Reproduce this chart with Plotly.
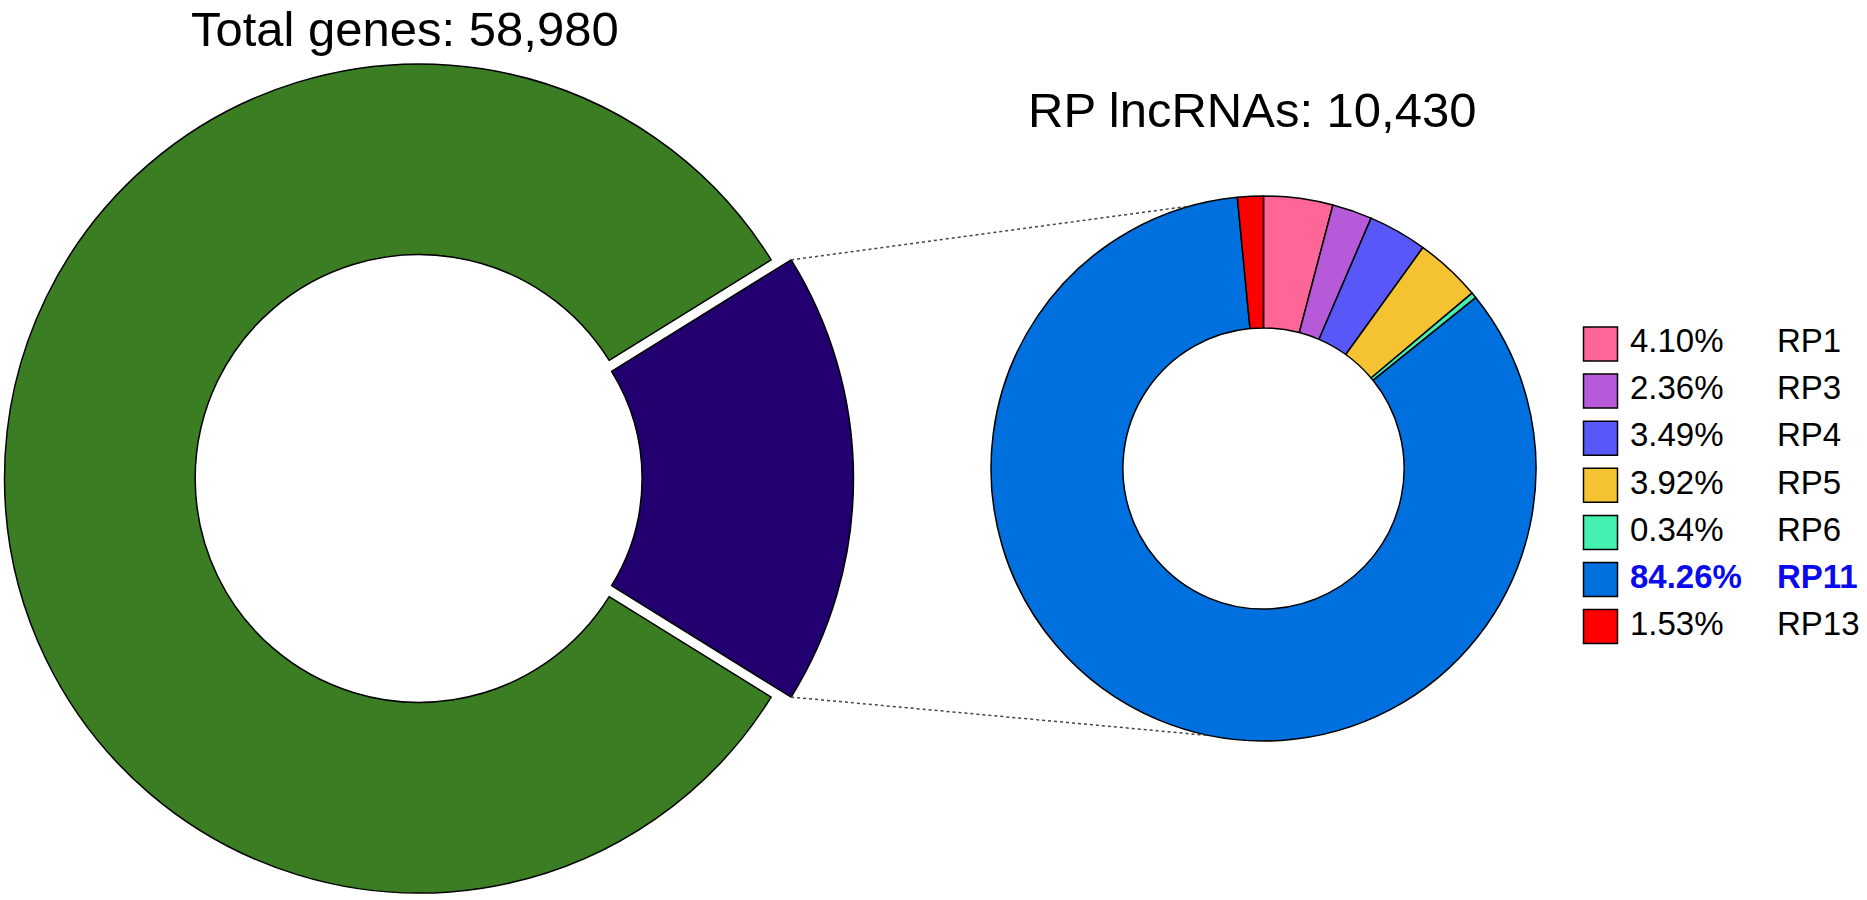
import math
import plotly.graph_objects as go

# left donut: all annotated genes
total_labels = ['RP lncRNAs', 'Other genes']
total_values = [10430, 48550]
total_colors = ['#220070', '#3b7d23']
total_title = 'Total genes: 58,980'

# right donut: RP lncRNA families, share in %
rp_labels = ['RP1', 'RP3', 'RP4', 'RP5', 'RP6', 'RP11', 'RP13']
rp_values = [4.10, 2.36, 3.49, 3.92, 0.34, 84.26, 1.53]
rp_colors = ['#fd6696', '#b75ad9', '#5858f8', '#f5c331', '#45f0b0', '#0070df', '#ff0000']
rp_highlight = 'RP11'
rp_title = 'RP lncRNAs: 10,430'

W, H = 1867, 900
FONT = 'Liberation Sans, Arial, sans-serif'
CLEAR = 'rgba(0,0,0,0)'

# geometry in pixels
L_CX, L_CY, L_R = 419, 478.5, 414.5
PULL_PX = 20
R_CX, R_CY, R_R = 1263.5, 468.5, 272.5


def dom(cx, cy, r):
    return dict(x=[(cx - r) / W, (cx + r) / W],
                y=[1 - (cy + r) / H, 1 - (cy - r) / H])


def polar(cx, cy, r, deg):
    a = math.radians(deg)
    return cx + r * math.sin(a), cy - r * math.cos(a)


span = 360 * total_values[0] / sum(total_values)
rot = 90 - span / 2

fig = go.Figure()

# green part
fig.add_trace(go.Pie(
    values = total_values,
    labels = total_labels,
    sort = False,
    direction = 'clockwise',
    rotation = rot,
    hole = 0.54,
    domain = dom(L_CX, L_CY, L_R),
    marker = dict(colors = [CLEAR, total_colors[1]],
                  line = dict(color = [CLEAR, 'black'], width = [0, 1.5])),
    textinfo = 'none',
    showlegend = False))

# exploded RP slice (slightly thicker ring, as in the original)
fig.add_trace(go.Pie(
    values = total_values,
    labels = total_labels,
    sort = False,
    direction = 'clockwise',
    rotation = rot,
    hole = 0.49,
    domain = dom(L_CX + PULL_PX, L_CY, L_R),
    marker = dict(colors = [total_colors[0], CLEAR],
                  line = dict(color = ['black', CLEAR], width = [1.5, 0])),
    textinfo = 'none',
    showlegend = False))

fig.add_trace(go.Pie(
    values = rp_values,
    labels = rp_labels,
    sort = False,
    direction = 'clockwise',
    rotation = 0,
    hole = 0.516,
    domain = dom(R_CX, R_CY, R_R),
    marker = dict(colors = rp_colors, line = dict(color = 'black', width = 1.5)),
    textinfo = 'none',
    showlegend = False))

# legend drawn on a hidden pixel-scaled axis
row_y = [344 + 47.1 * i for i in range(len(rp_labels))]
txt_colors = ['#0a0af0' if l == rp_highlight else 'black' for l in rp_labels]
pct_text = [('<b>%.2f%%</b>' if l == rp_highlight else '%.2f%%') % v
            for l, v in zip(rp_labels, rp_values)]
lab_text = ['<b>%s</b>' % l if l == rp_highlight else l for l in rp_labels]

fig.add_trace(go.Scatter(
    x = [1600.5] * len(rp_labels), y = row_y,
    mode = 'markers',
    marker = dict(symbol = 'square', size = 34, color = rp_colors,
                  line = dict(color = 'black', width = 1.5)),
    hoverinfo = 'skip', showlegend = False))

fig.add_trace(go.Scatter(
    x = [1630] * len(rp_labels), y = row_y,
    mode = 'text', text = pct_text, textposition = 'middle right',
    textfont = dict(family = FONT, size = 33, color = txt_colors),
    hoverinfo = 'skip', showlegend = False))

fig.add_trace(go.Scatter(
    x = [1777] * len(rp_labels), y = row_y,
    mode = 'text', text = lab_text, textposition = 'middle right',
    textfont = dict(family = FONT, size = 33, color = txt_colors),
    hoverinfo = 'skip', showlegend = False))

# dotted connectors from the exploded slice to the right donut
corners = [polar(L_CX + PULL_PX, L_CY, L_R, rot),
           polar(L_CX + PULL_PX, L_CY, L_R, rot + span)]
ends = [polar(R_CX, R_CY, R_R, -15.5), polar(R_CX, R_CY, R_R, 191.5)]
for (x0, y0), (x1, y1) in zip(corners, ends):
    fig.add_shape(type = 'line', xref = 'x', yref = 'y',
                  x0 = x0, y0 = y0, x1 = x1, y1 = y1,
                  line = dict(color = '#444444', width = 1.5, dash = 'dot'))

fig.add_annotation(x = 405, y = 0, xref = 'x', yref = 'y', yanchor = 'top',
                   text = total_title, showarrow = False,
                   font = dict(family = FONT, size = 49, color = 'black'))
fig.add_annotation(x = 1252, y = 110, xref = 'x', yref = 'y', text = rp_title,
                   showarrow = False, font = dict(family = FONT, size = 49, color = 'black'))

fig.update_layout(
    width = W, height = H,
    margin = dict(l = 0, r = 0, t = 0, b = 0),
    paper_bgcolor = 'white',
    plot_bgcolor = 'white',
    xaxis = dict(range = [0, W], visible = False, fixedrange = True),
    yaxis = dict(range = [H, 0], visible = False, fixedrange = True),
    font = dict(family = FONT))

# drop the default page margin so the figure sits at the window corner
fig.write_html('out.html', config = {'displayModeBar': False},
               post_script = "document.body.style.margin = '0';")
